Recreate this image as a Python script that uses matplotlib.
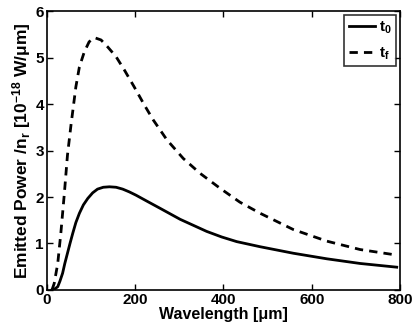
import matplotlib
matplotlib.use("Agg")
import matplotlib.pyplot as plt

plt.rcParams['font.family'] = ['Liberation Sans', 'DejaVu Sans']
plt.rcParams['font.weight'] = 'bold'
plt.rcParams['mathtext.fontset'] = 'custom'
plt.rcParams['mathtext.rm'] = 'Liberation Sans:bold'
plt.rcParams['mathtext.it'] = 'Liberation Sans:bold'
plt.rcParams['mathtext.bf'] = 'Liberation Sans:bold'
plt.rcParams['mathtext.default'] = 'rm'

# t0 (solid)
wl_t0 = [12, 18, 25, 30, 36, 41, 47, 53, 59, 66, 74, 83, 93, 104, 115, 128, 142, 157, 172, 187, 202,
         225, 256, 302, 362, 396, 430, 483, 558, 634, 709, 792]
p_t0 = [0.0, 0.02, 0.07, 0.19, 0.36, 0.57, 0.79, 1.01, 1.22, 1.45, 1.65, 1.83, 1.97, 2.09, 2.17, 2.21, 2.22, 2.21, 2.17, 2.11, 2.04,
        1.92, 1.76, 1.52, 1.26, 1.14, 1.04, 0.93, 0.79, 0.67, 0.57, 0.49]

# tf (dashed)
wl_tf = [12, 17, 25, 32, 40, 47, 55, 66, 74, 85, 96, 108, 123, 138, 157, 176, 198, 221, 241, 272, 309,
         347, 392, 437, 483, 558, 634, 709, 792]
p_tf = [0.0, 0.14, 0.57, 1.22, 2.08, 2.90, 3.55, 4.37, 4.80, 5.12, 5.34, 5.43, 5.38, 5.23, 5.02, 4.73, 4.37, 3.98, 3.66, 3.23, 2.83,
        2.51, 2.19, 1.89, 1.65, 1.30, 1.05, 0.87, 0.75]

xticks = [0, 200, 400, 600, 800]
yticks = [0, 1, 2, 3, 4, 5, 6]

fig = plt.figure(figsize=(4.15, 3.28), dpi=100)
ax = fig.add_axes([0.1125, 0.116, 0.852, 0.850])

ax.plot(wl_t0, p_t0, color='black', lw=2.0, ls='-', label='t$_0$', solid_joinstyle='round')
ax.plot(wl_tf, p_tf, color='black', lw=2.0, ls=(0, (3, 2.2)), label='t$_f$')

ax.set_xlim(0, 800)
ax.set_ylim(0, 6)
ax.set_xticks(xticks)
ax.set_yticks(yticks)
ax.tick_params(direction='in', top=True, right=True, labelsize=11, width=1, length=4, pad=2)
for lbl in ax.get_xticklabels() + ax.get_yticklabels():
    lbl.set_fontweight('bold')
for s in ax.spines.values():
    s.set_linewidth(1.2)

ax.set_xlabel('Wavelength [μm]', fontsize=11.5, fontweight='bold', labelpad=0)
ax.set_ylabel('Emitted Power /n$_r$ [10$^{-18}$ W/μm]', fontsize=12.5, fontweight='bold', labelpad=2)

leg = ax.legend(loc='upper right', fontsize=11, frameon=True, fancybox=False,
                edgecolor='black', handlelength=1.7, handletextpad=0.3,
                borderpad=0.3, labelspacing=0.6, borderaxespad=0.25)
leg.get_frame().set_linewidth(1.2)

fig.savefig('out.png', dpi=100)
